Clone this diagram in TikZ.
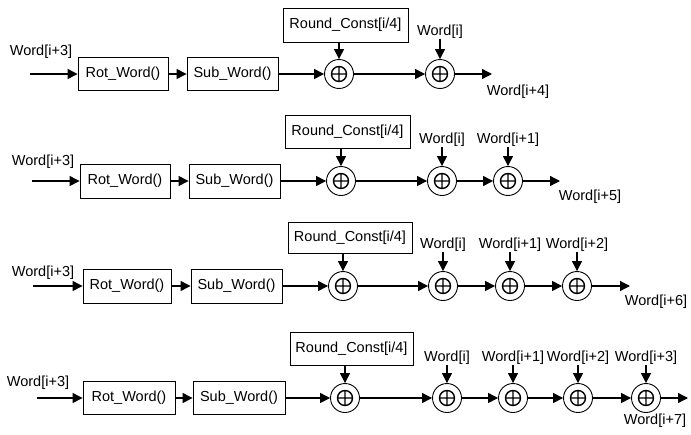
\documentclass[tikz,border=0pt]{standalone}
\usepackage{fontspec}
\setmainfont{Liberation Sans}
\usetikzlibrary{arrows.meta}
\begin{document}
\begin{tikzpicture}[x=1pt,y=-1pt,
  every node/.style={font=\fontsize{14.5}{16}\selectfont},
  fnbox/.style={draw,line width=0.9pt,minimum width=#1,minimum height=33pt,inner sep=0pt},
  fnbox/.default=90pt,
  rcbox/.style={draw,line width=0.9pt,minimum width=125pt,minimum height=33pt,inner sep=0pt},
  xorop/.style={circle,draw,line width=0.9pt,minimum size=29pt,inner sep=0pt,
    path picture={
      \draw[line width=1.4pt,shift={(path picture bounding box.center)}]
        (0,0) circle[radius=7.5pt] (-7.5pt,0) -- (7.5pt,0) (0,-7.5pt) -- (0,7.5pt);}},
  lbl/.style={inner sep=0pt},
  flow/.style={line width=1.3pt,-{Triangle[length=10pt,width=10pt]}}]
\useasboundingbox (0,0) rectangle (691,434);

% ---- stage 1 ----
\node[lbl] (a-in) at (41,52) {Word[i+3]};
\coordinate (a-s) at (30,74);
\node[fnbox] (a-rot) at (123,74) {Rot\_Word()};
\node[fnbox=91pt] (a-sub) at (232.5,74) {Sub\_Word()};
\node[xorop] (a-x1) at (339,74) {};
\node[rcbox,minimum height=34pt] (a-rc) at (345.5,25) {Round\_Const[i/4]};
\node[xorop] (a-x2) at (440,74) {};
\node[lbl] (a-w0) at (440,32) {Word[i]};
\coordinate (a-o) at (492,74);
\node[lbl] (a-out) at (518,92) {Word[i+4]};
\draw[flow] (a-s) -- (a-rot);
\draw[flow] (a-rot) -- (a-sub);
\draw[flow] (a-sub) -- (a-x1);
\draw[flow] (a-rc.south -| a-x1) -- (a-x1);
\draw[flow] (a-x1) -- (a-x2);
\draw[flow] (a-w0) -- (a-x2);
\draw[flow] (a-x2) -- (a-o);

% ---- stage 2 ----
\node[lbl] (b-in) at (43,162) {Word[i+3]};
\coordinate (b-s) at (32,181);
\node[fnbox,minimum height=34pt] (b-rot) at (125,181) {Rot\_Word()};
\node[fnbox=91pt,minimum height=34pt] (b-sub) at (234.5,181) {Sub\_Word()};
\node[xorop] (b-x1) at (341,181) {};
\node[rcbox] (b-rc) at (347.5,131.5) {Round\_Const[i/4]};
\node[xorop] (b-x2) at (442,181) {};
\node[xorop] (b-x3) at (508,181) {};
\node[lbl] (b-w0) at (442,140) {Word[i]};
\node[lbl] (b-w1) at (508,140) {Word[i+1]};
\coordinate (b-o) at (560,181);
\node[lbl] (b-out) at (590,197) {Word[i+5]};
\draw[flow] (b-s) -- (b-rot);
\draw[flow] (b-rot) -- (b-sub);
\draw[flow] (b-sub) -- (b-x1);
\draw[flow] (b-rc.south -| b-x1) -- (b-x1);
\draw[flow] (b-x1) -- (b-x2);
\draw[flow] (b-x2) -- (b-x3);
\draw[flow] (b-w0) -- (b-x2);
\draw[flow] (b-w1) -- (b-x3);
\draw[flow] (b-x3) -- (b-o);

% ---- stage 3 ----
\node[lbl] (c-in) at (43,273) {Word[i+3]};
\coordinate (c-s) at (33,286);
\node[fnbox=88pt,minimum height=34pt] (c-rot) at (127,286) {Rot\_Word()};
\node[fnbox=91pt,minimum height=34pt] (c-sub) at (236.5,286) {Sub\_Word()};
\node[xorop] (c-x1) at (343,286) {};
\node[rcbox,minimum width=124pt,minimum height=31pt] (c-rc) at (350,237.5) {Round\_Const[i/4]};
\node[xorop] (c-x2) at (443,286) {};
\node[xorop] (c-x3) at (510,286) {};
\node[xorop] (c-x4) at (577,286) {};
\node[lbl] (c-w0) at (443,245) {Word[i]};
\node[lbl] (c-w1) at (510,245) {Word[i+1]};
\node[lbl] (c-w2) at (577,245) {Word[i+2]};
\coordinate (c-o) at (630,286);
\node[lbl] (c-out) at (656,302) {Word[i+6]};
\draw[flow] (c-s) -- (c-rot);
\draw[flow] (c-rot) -- (c-sub);
\draw[flow] (c-sub) -- (c-x1);
\draw[flow] (c-rc.south -| c-x1) -- (c-x1);
\draw[flow] (c-x1) -- (c-x2);
\draw[flow] (c-x2) -- (c-x3);
\draw[flow] (c-x3) -- (c-x4);
\draw[flow] (c-w0) -- (c-x2);
\draw[flow] (c-w1) -- (c-x3);
\draw[flow] (c-w2) -- (c-x4);
\draw[flow] (c-x4) -- (c-o);

% ---- stage 4 ----
\node[lbl] (d-in) at (38,383) {Word[i+3]};
\coordinate (d-s) at (37,398);
\node[fnbox=92pt] (d-rot) at (129,398) {Rot\_Word()};
\node[fnbox=92pt] (d-sub) at (239,398) {Sub\_Word()};
\node[xorop] (d-x1) at (345,398) {};
\node[rcbox,minimum width=123pt] (d-rc) at (351.5,348.5) {Round\_Const[i/4]};
\node[xorop] (d-x2) at (447,398) {};
\node[xorop] (d-x3) at (513,398) {};
\node[xorop] (d-x4) at (578,398) {};
\node[xorop] (d-x5) at (646,398) {};
\node[lbl] (d-w0) at (447,358) {Word[i]};
\node[lbl] (d-w1) at (513,358) {Word[i+1]};
\node[lbl] (d-w2) at (578,358) {Word[i+2]};
\node[lbl] (d-w3) at (646,358) {Word[i+3]};
\coordinate (d-o) at (688,398);
\node[lbl] (d-out) at (655,421) {Word[i+7]};
\draw[flow] (d-s) -- (d-rot);
\draw[flow] (d-rot) -- (d-sub);
\draw[flow] (d-sub) -- (d-x1);
\draw[flow] (d-rc.south -| d-x1) -- (d-x1);
\draw[flow] (d-x1) -- (d-x2);
\draw[flow] (d-x2) -- (d-x3);
\draw[flow] (d-x3) -- (d-x4);
\draw[flow] (d-x4) -- (d-x5);
\draw[flow] (d-w0) -- (d-x2);
\draw[flow] (d-w1) -- (d-x3);
\draw[flow] (d-w2) -- (d-x4);
\draw[flow] (d-w3) -- (d-x5);
\draw[flow] (d-x5) -- (d-o);
\end{tikzpicture}
\end{document}
